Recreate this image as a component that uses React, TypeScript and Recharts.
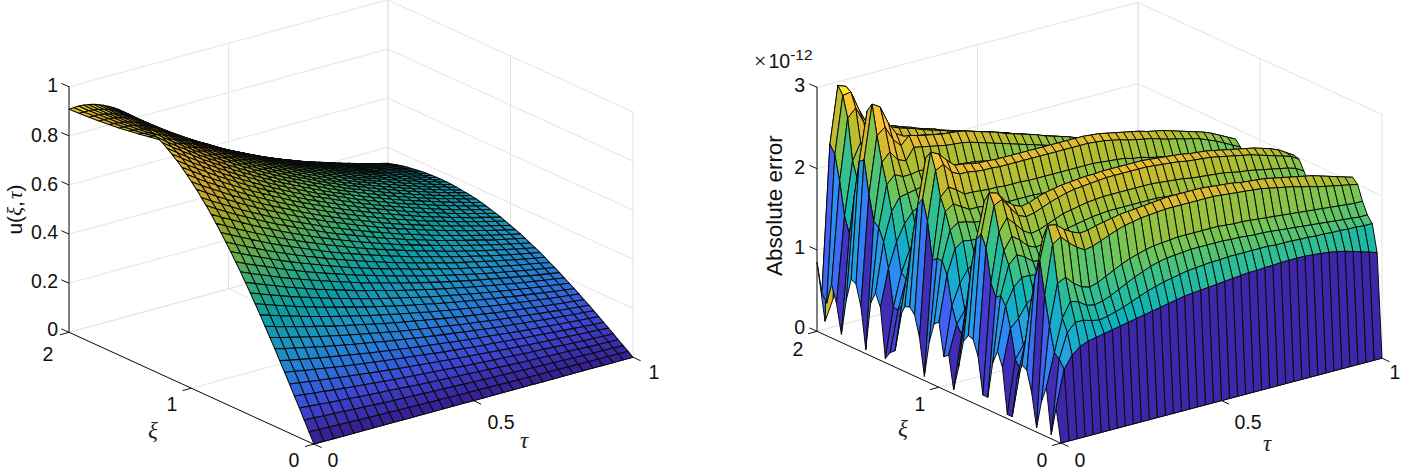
import React from "react";
import { ScatterChart, Scatter, XAxis, YAxis } from "recharts";

// shared xi grid, tau grids for both surfaces
const xiValues = [0, 0.04, 0.08, 0.12, 0.16, 0.2, 0.24, 0.28, 0.32, 0.36, 0.4, 0.44, 0.48, 0.52, 0.56, 0.6, 0.64, 0.68, 0.72, 0.76, 0.8, 0.84, 0.88, 0.92, 0.96, 1, 1.04, 1.08, 1.12, 1.16, 1.2, 1.24, 1.28, 1.32, 1.36, 1.4, 1.44, 1.48, 1.52, 1.56, 1.6, 1.64, 1.68, 1.72, 1.76, 1.8, 1.84, 1.88, 1.92, 1.96, 2];
const tauLeft = [0, 0.03125, 0.0625, 0.09375, 0.125, 0.15625, 0.1875, 0.21875, 0.25, 0.28125, 0.3125, 0.34375, 0.375, 0.40625, 0.4375, 0.46875, 0.5, 0.53125, 0.5625, 0.59375, 0.625, 0.65625, 0.6875, 0.71875, 0.75, 0.78125, 0.8125, 0.84375, 0.875, 0.90625, 0.9375, 0.96875, 1];
const tauRight = [0, 0.025, 0.05, 0.075, 0.1, 0.125, 0.15, 0.175, 0.2, 0.225, 0.25, 0.275, 0.3, 0.325, 0.35, 0.375, 0.4, 0.425, 0.45, 0.475, 0.5, 0.525, 0.55, 0.575, 0.6, 0.625, 0.65, 0.675, 0.7, 0.725, 0.75, 0.775, 0.8, 0.825, 0.85, 0.875, 0.9, 0.925, 0.95, 0.975, 1];

// u(xi, tau) in thousandths, one row per xi
const uRows = [
[0,0,0,0,0,0,0,0,0,0,0,0,0,0,0,0,0,0,0,0,0,0,0,0,0,0,0,0,0,0,0,0,0],
[40,39,38,36,35,34,33,32,31,30,29,28,27,27,26,25,24,24,23,22,21,21,20,19,19,18,18,17,17,16,16,15,15],
[80,78,75,73,71,68,66,64,62,60,59,57,55,53,52,50,49,47,46,44,43,42,40,39,38,37,36,34,33,32,31,30,29],
[120,116,113,109,106,103,99,96,93,91,88,85,82,80,78,75,73,71,68,66,64,62,60,58,57,55,53,52,50,48,47,46,44],
[159,154,149,145,140,136,132,128,124,120,116,113,109,106,103,100,97,93,91,88,85,83,80,77,75,73,71,68,66,64,62,60,59],
[199,193,187,181,176,170,165,160,155,150,146,141,137,133,129,125,121,117,113,110,106,103,100,97,94,91,88,86,83,80,78,76,73],
[238,231,223,217,210,203,197,191,185,180,174,169,164,159,154,149,144,140,136,131,127,124,120,116,112,109,106,102,99,96,93,90,88],
[276,267,259,251,243,236,229,222,215,208,202,196,190,184,178,173,168,162,157,152,148,143,139,134,130,126,123,119,115,112,108,105,102],
[315,305,296,287,278,269,261,253,245,238,231,223,216,210,203,197,191,185,180,174,169,163,158,153,149,144,140,135,131,127,123,120,116],
[352,341,331,321,310,301,292,283,274,266,258,250,242,234,227,220,214,207,201,194,188,183,177,171,166,161,156,151,147,142,138,134,130],
[389,377,365,354,343,333,322,312,303,294,285,276,267,259,251,244,236,229,222,215,208,202,196,189,184,178,173,167,162,157,152,148,143],
[426,413,400,388,376,364,353,342,332,322,312,302,293,284,275,267,259,250,243,235,228,221,214,207,201,195,189,183,178,172,167,162,157],
[462,448,434,421,407,395,383,371,360,349,338,328,317,308,298,289,280,272,263,255,247,240,232,225,218,212,205,199,193,187,181,176,170],
[497,482,467,453,438,425,412,399,387,375,364,352,341,331,321,311,302,292,283,274,266,258,250,242,235,228,221,214,207,201,195,189,183],
[531,515,499,484,468,454,440,426,414,401,389,376,365,354,343,332,322,312,303,293,284,276,267,259,251,243,236,228,221,215,208,202,195],
[565,547,531,515,498,483,468,454,440,427,414,401,388,376,365,354,343,332,322,312,302,293,284,275,267,259,251,243,236,228,221,215,208],
[597,578,561,544,527,510,495,479,465,451,437,423,410,398,386,374,362,351,340,330,319,310,300,291,282,273,265,257,249,241,234,227,220],
[629,610,591,573,555,538,521,505,490,475,460,446,432,419,406,394,382,370,359,347,337,326,316,306,297,288,279,270,262,254,247,239,231],
[659,639,619,600,581,563,546,529,513,498,482,467,453,439,426,413,400,387,376,364,353,342,331,321,311,302,293,283,275,266,258,250,243],
[689,668,647,628,608,589,571,553,537,520,504,488,473,459,445,431,418,405,393,380,369,358,347,336,325,316,306,296,287,278,270,262,254],
[717,695,673,653,632,613,594,576,559,541,525,508,493,478,463,449,435,422,409,396,384,372,361,349,338,328,318,308,299,290,281,272,264],
[745,722,700,679,657,637,618,598,580,562,545,528,512,496,481,466,452,438,425,411,399,387,375,363,352,341,331,320,311,301,292,283,274],
[771,747,724,702,680,659,639,619,601,582,564,547,530,513,498,483,468,453,439,426,412,400,388,375,364,353,342,332,321,311,302,293,284],
[795,770,747,724,701,680,659,638,619,600,582,564,546,529,514,498,483,467,453,439,425,413,400,387,375,364,353,342,332,321,312,302,293],
[819,794,769,746,722,700,679,658,638,618,600,581,563,545,529,513,497,482,467,452,438,425,412,399,387,375,364,352,342,331,321,311,301],
[841,815,790,766,742,719,697,675,655,635,616,596,578,560,543,526,510,495,479,464,450,436,423,410,397,385,373,362,351,340,330,320,309],
[862,835,809,785,760,737,715,692,671,651,631,611,592,574,557,540,523,507,491,476,461,447,434,420,407,395,383,371,359,348,338,328,317],
[882,855,828,803,778,754,731,708,687,666,646,625,606,587,570,552,535,519,503,487,472,458,444,430,416,404,392,379,368,356,346,335,325],
[900,872,845,820,794,770,746,723,701,680,659,638,618,599,581,563,546,529,513,497,482,467,453,438,425,412,400,387,375,364,353,342,331],
[917,889,861,835,809,784,760,736,714,692,671,650,630,611,592,574,557,539,523,506,491,476,461,447,433,420,407,394,382,370,359,348,337],
[932,903,875,849,822,797,773,748,726,704,682,661,640,621,602,583,566,548,531,514,499,484,469,454,440,427,414,401,389,377,365,354,343],
[946,917,888,862,834,809,784,760,737,714,692,671,650,630,611,592,574,556,539,522,506,491,476,461,447,433,420,407,394,382,371,359,348],
[958,928,900,873,845,819,794,769,746,723,701,679,658,638,619,600,582,563,546,529,513,497,482,467,452,439,425,412,399,387,376,364,353],
[969,939,910,883,855,828,803,778,755,732,709,687,666,645,626,607,588,570,552,535,518,503,487,472,457,444,430,417,404,391,380,368,357],
[978,948,918,891,863,836,811,785,762,738,716,693,672,651,632,612,594,575,557,540,523,508,492,476,462,448,434,421,408,395,383,372,360],
[985,954,925,897,869,842,817,791,767,744,721,698,677,656,636,617,598,579,561,544,527,511,495,480,465,451,437,424,411,398,386,374,362],
[991,960,931,903,874,847,822,796,772,748,725,703,681,660,640,620,602,583,565,547,530,514,498,483,468,454,440,426,413,400,388,377,365],
[996,965,935,907,878,852,826,800,776,752,729,706,684,663,643,623,605,586,568,550,533,517,501,485,470,456,442,428,415,402,390,378,367],
[999,968,938,910,881,854,828,802,778,754,731,708,686,665,645,625,606,587,569,551,534,518,502,486,472,458,444,430,417,404,392,380,368],
[1000,969,939,911,882,855,829,803,779,755,732,709,687,666,646,626,607,588,570,552,535,519,503,487,472,458,444,430,417,404,392,380,368],
[1000,969,939,911,882,855,829,803,779,755,732,709,687,666,646,626,607,588,570,552,535,519,503,487,472,458,444,430,417,404,392,380,368],
[998,967,937,909,880,853,827,801,777,753,731,708,686,665,645,625,606,587,569,551,534,518,502,486,471,457,443,429,416,403,391,379,367],
[994,963,933,906,877,850,824,798,774,750,728,705,683,662,642,622,603,584,567,549,532,516,500,484,469,455,441,427,414,402,390,378,366],
[989,958,929,901,872,846,820,794,770,747,724,701,679,659,639,619,600,582,564,546,529,513,497,482,467,453,439,425,412,400,388,376,364],
[982,952,922,895,866,840,814,789,765,741,719,696,675,654,634,615,596,577,560,542,525,510,494,478,464,450,436,422,410,397,385,373,361],
[974,944,915,887,859,833,807,782,759,735,713,691,669,649,629,610,591,573,555,538,521,506,490,474,460,446,432,419,406,393,382,370,358],
[964,934,905,878,850,824,799,774,751,728,706,683,662,642,623,603,585,567,549,532,516,500,485,469,455,442,428,415,402,389,378,366,355],
[953,923,895,868,841,815,790,765,742,720,698,676,655,635,616,597,578,560,543,526,510,495,479,464,450,436,423,410,397,385,374,362,351],
[940,911,883,856,829,804,779,755,732,710,688,666,646,626,607,588,571,553,536,519,503,488,473,458,444,431,417,404,392,380,368,357,346],
[925,896,869,843,816,791,767,743,721,698,677,656,635,616,598,579,561,544,527,511,495,480,465,450,437,424,411,398,386,374,363,352,340],
[909,881,854,828,802,777,754,730,708,686,665,644,624,605,587,569,552,534,518,502,486,472,457,443,429,416,404,391,379,367,356,345,335],
];

// absolute error in units of 1e-14, one row per xi
const errRows = [
[0,0,0,0,0,0,0,0,0,0,0,0,0,0,0,0,0,0,0,0,0,0,0,0,0,0,0,0,0,0,0,0,0,0,0,0,0,0,0,0,0],
[40,85,100,108,112,114,116,118,120,122,124,126,128,130,132,134,136,137,138,139,140,141,142,143,144,144,145,145,146,146,146,146,145,144,143,141,139,136,133,130,127],
[5,95,125,135,135,132,130,132,135,138,142,146,150,153,156,158,160,162,163,164,165,165,166,166,166,166,166,166,165,165,165,164,164,163,163,162,162,161,161,160,160],
[60,100,140,158,155,148,146,148,152,157,162,167,171,175,178,180,181,182,183,183,183,183,183,182,182,181,180,180,179,178,177,176,175,174,173,172,171,170,169,168,168],
[40,130,180,185,175,168,165,168,173,178,183,187,190,193,195,196,197,198,198,198,198,198,198,197,196,196,195,194,193,192,191,190,189,188,187,186,185,184,183,182,182],
[5,165,225,232,222,214,208,210,214,218,222,225,227,229,230,231,232,232,232,232,232,232,232,231,230,229,228,227,226,224,222,220,218,215,213,210,208,206,204,202,200],
[45,205,246,244,236,230,226,227,230,232,234,236,237,238,239,240,241,242,242,242,242,242,241,240,239,238,236,235,234,233,231,229,227,225,223,221,218,215,212,209,206],
[70,180,228,230,220,212,208,210,213,216,218,220,221,222,223,224,224,225,225,225,225,225,224,223,222,221,220,219,218,217,215,213,212,210,208,206,204,202,200,198,195],
[74,140,180,190,180,172,172,174,178,182,185,187,189,191,192,193,194,195,195,195,195,195,194,193,192,191,190,189,188,187,186,184,183,182,180,178,176,174,172,170,166],
[55,95,130,150,150,150,150,152,156,159,161,163,165,166,167,168,169,170,170,170,170,170,169,168,167,166,165,164,163,162,161,160,159,158,156,155,153,152,150,148,145],
[5,60,90,115,125,132,136,139,143,145,147,149,150,151,152,153,154,155,155,155,155,155,154,153,152,151,150,149,148,147,146,145,144,143,142,141,140,138,136,134,130],
[5,70,85,105,118,126,132,135,138,140,142,144,145,146,147,148,149,150,150,150,150,150,149,148,147,146,145,144,143,142,141,140,139,138,137,136,135,134,132,130,126],
[60,105,115,130,138,142,145,147,150,152,154,155,156,157,158,159,160,160,160,160,160,160,159,158,157,156,155,154,153,152,151,150,149,148,147,146,145,143,141,139,135],
[77,130,150,160,160,158,157,159,162,165,168,170,171,172,173,174,175,175,175,175,175,175,174,173,172,171,170,169,168,167,166,165,164,163,162,160,158,156,154,152,148],
[60,140,175,185,180,172,170,172,176,179,182,185,186,188,189,190,190,190,190,190,190,190,189,188,187,186,185,184,183,182,181,180,179,178,176,174,172,170,168,166,161],
[15,135,190,205,198,188,184,186,190,194,197,199,201,203,204,205,205,205,205,205,205,205,204,203,202,201,200,199,198,197,196,194,193,192,190,188,186,184,182,179,174],
[15,150,210,225,215,204,198,200,204,208,212,214,216,218,219,220,220,220,220,220,220,220,219,218,217,216,214,213,212,211,210,208,206,205,203,201,199,197,195,192,186],
[60,190,240,245,232,220,216,218,222,226,229,232,234,235,236,237,238,238,238,238,238,238,237,236,235,234,232,231,230,229,227,225,223,221,219,216,213,210,207,204,198],
[78,205,253,250,238,230,226,228,232,235,237,239,240,241,242,242,243,243,243,243,243,243,242,241,240,239,238,236,235,234,232,230,228,226,224,222,219,216,212,206,200],
[80,195,240,240,228,218,212,214,218,222,224,226,227,228,229,230,231,232,232,232,232,232,231,230,229,228,226,225,224,223,222,220,218,216,214,212,209,206,203,198,192],
[70,160,200,210,200,192,190,191,193,196,198,200,201,202,203,204,204,205,205,205,205,205,204,203,202,201,200,199,198,197,196,194,193,192,190,188,186,184,182,178,174],
[35,110,150,170,170,168,166,168,170,172,174,175,176,177,178,179,179,180,180,180,180,180,179,178,177,176,175,174,173,172,171,170,169,168,166,164,162,160,158,156,152],
[5,70,105,130,138,142,144,146,149,151,153,154,155,156,157,158,159,160,160,160,160,160,159,158,157,156,155,154,153,152,151,150,149,148,146,144,142,140,138,136,132],
[45,80,95,115,128,138,143,145,147,148,149,150,150,150,150,150,150,150,150,150,150,150,149,148,147,146,145,144,143,141,140,138,137,135,133,131,129,127,125,121,117],
[40,100,125,140,148,152,155,156,156,156,156,156,156,156,156,156,155,155,155,155,155,155,154,153,152,151,150,149,147,146,144,143,141,139,137,135,133,131,128,125,121],
[80,135,165,172,170,170,171,170,170,170,170,169,169,169,168,168,168,168,168,168,168,168,167,166,165,164,162,161,160,158,156,155,153,151,149,147,144,142,139,135,131],
[75,150,185,192,190,187,186,185,185,184,184,183,183,183,182,182,182,182,182,182,182,182,181,180,179,178,176,175,173,171,169,168,166,164,161,159,157,154,151,146,142],
[50,150,205,212,206,200,200,199,198,198,197,197,197,197,196,196,196,196,196,196,196,196,195,194,193,192,189,188,186,184,182,180,178,176,174,171,169,165,161,157,153],
[5,145,220,230,224,216,216,215,214,214,213,213,213,212,212,212,212,212,212,212,212,212,211,210,209,208,205,204,201,199,197,195,193,190,188,185,182,179,175,170,165],
[50,190,250,255,243,238,238,236,235,235,234,234,234,234,234,234,234,234,234,234,234,234,233,232,230,228,225,223,221,219,216,213,211,208,206,203,199,195,190,185,180],
[75,215,270,265,255,246,245,243,241,241,240,240,240,240,240,240,240,240,240,240,240,240,239,238,236,234,232,230,228,225,223,221,218,215,212,209,206,202,197,192,187],
[82,205,260,260,246,236,232,231,230,229,229,228,228,228,228,228,228,228,228,228,228,228,227,226,224,222,220,218,216,214,212,210,207,204,202,199,196,192,187,182,178],
[80,165,215,222,210,204,204,203,202,201,201,200,200,200,200,200,200,200,200,200,200,200,199,198,196,195,193,191,190,188,186,184,182,179,177,175,172,168,164,160,156],
[65,120,160,178,178,178,178,177,176,176,176,175,175,175,175,175,175,175,175,175,175,175,174,173,172,170,169,167,166,164,163,161,159,157,155,153,150,147,144,140,137],
[20,75,115,140,150,156,158,157,156,156,156,155,155,155,155,155,155,155,155,155,155,155,154,153,152,151,150,148,147,146,144,143,141,139,137,135,133,130,127,124,121],
[15,65,100,125,138,145,150,150,150,149,149,149,148,148,148,147,147,146,146,146,145,145,144,143,142,140,139,137,136,134,132,130,128,126,124,122,120,118,115,113,110],
[5,65,105,130,145,155,160,160,160,160,160,159,158,157,156,155,154,153,152,151,150,148,146,144,142,140,138,136,134,132,130,128,126,123,120,118,116,114,112,110,108],
[65,110,140,160,172,178,180,179,178,177,176,175,174,173,172,170,168,167,165,164,162,160,158,156,153,151,148,146,143,141,138,136,133,130,127,125,123,121,119,117,115],
[80,140,175,190,192,194,196,195,194,193,192,191,190,189,187,185,183,180,178,176,175,172,170,167,165,162,159,157,154,151,149,146,144,140,137,135,133,130,128,126,124],
[65,155,205,215,210,210,212,211,210,209,208,207,206,205,203,200,198,195,193,191,190,187,184,181,178,175,173,170,167,164,161,159,156,152,148,146,144,141,139,136,134],
[5,160,230,240,228,224,238,236,234,232,230,229,228,226,223,220,217,214,211,208,205,202,199,196,193,190,187,183,180,177,174,171,168,164,160,158,156,153,150,147,146],
[55,190,260,268,250,240,250,247,245,243,241,240,239,237,234,231,228,225,221,218,215,212,209,205,202,199,196,192,189,186,183,180,176,172,168,166,163,160,157,155,153],
[80,230,296,290,268,252,246,244,242,240,238,236,235,232,230,228,224,220,216,213,210,207,204,200,197,194,191,188,185,182,178,175,172,168,164,162,160,156,153,151,149],
[83,225,285,285,262,242,234,232,230,228,226,224,222,220,218,216,212,209,206,203,200,197,194,191,188,185,182,179,176,173,170,167,164,160,156,154,152,149,146,144,142],
[55,180,240,250,232,216,208,206,204,202,201,199,197,196,194,192,189,186,183,180,178,175,173,170,167,165,162,159,157,154,151,149,146,142,139,137,135,133,130,128,126],
[10,130,195,215,205,195,190,188,186,185,184,182,181,179,177,175,172,170,168,166,165,163,160,158,155,153,150,148,145,143,140,138,135,132,129,127,125,123,121,119,117],
[45,150,215,235,225,215,208,206,204,202,200,198,196,194,192,190,186,184,180,175,172,170,167,164,161,159,156,154,151,148,146,144,141,138,134,132,131,128,125,124,122],
[66,190,265,275,255,238,228,226,224,222,220,217,215,212,210,207,203,200,196,190,185,182,179,176,173,170,167,164,161,158,155,153,150,146,142,140,138,135,132,130,128],
[40,220,290,292,268,248,240,238,236,232,229,226,222,219,216,213,209,206,203,200,198,195,191,188,184,181,178,174,171,168,165,161,158,154,150,147,145,142,139,136,134],
[50,230,300,296,270,250,240,238,235,232,228,225,221,218,215,211,208,205,202,199,196,193,190,187,183,180,177,173,170,167,164,160,157,153,149,146,144,141,138,135,133],
[85,10,35,60,80,100,110,115,120,122,125,125,125,125,122,120,118,116,114,112,110,108,106,104,102,100,98,96,94,92,90,88,86,84,82,80,78,76,74,72,70],
];

const uTicks = [0, 0.2, 0.4, 0.6, 0.8, 1];
const errTicks = [0, 1, 2, 3];
const xiTicks = [0, 1, 2];
const tauTicks = [0, 0.5, 1];

const parula = ["#3e26a8", "#4750f3", "#2e87f7", "#1fa8db", "#0bb4b8", "#35c08c", "#73c656", "#b0bd2e", "#ebba2f", "#fcc832", "#f9fb15"];

const leftBox = { ox: 314, oy: 444, xiX: -122.5, xiY: -56, tauX: 319, tauY: -87, zPx: 246 };
const rightBox = { ox: 1061, oy: 443, xiX: -122, xiY: -56, tauX: 321, tauY: -85, zPx: 81.5 };

const hexToRgb = (h: string) => [1, 3, 5].map((k) => parseInt(h.slice(k, k + 2), 16));
function colorAt(t: number, shade: number) {
  const f = Math.max(0, Math.min(0.9999, t)) * (parula.length - 1);
  const k = Math.floor(f);
  const a = hexToRgb(parula[k]);
  const b = hexToRgb(parula[k + 1]);
  const c = a.map((v, n) => Math.round((v + (b[n] - v) * (f - k)) * shade));
  return `rgb(${c[0]},${c[1]},${c[2]})`;
}

const project = (box: any, xi: number, tau: number, z: number) => ({
  x: box.ox + xi * box.xiX + tau * box.tauX,
  y: box.oy + xi * box.xiY + tau * box.tauY - z * box.zPx,
});

// far cells first, so nearer ones paint over them
function buildFaces(box: any, taus: number[], rows: number[][], unit: number, zMax: number, shade: number) {
  const faces: any[] = [];
  for (let i = xiValues.length - 2; i >= 0; i--) {
    for (let j = taus.length - 2; j >= 0; j--) {
      const p = [[i, j], [i + 1, j], [i + 1, j + 1], [i, j + 1]].map(([a, b]) => project(box, xiValues[a], taus[b], rows[a][b] * unit));
      faces.push({
        x: p[0].x,
        y: p[0].y,
        pts: p.map((q) => [q.x - p[0].x, q.y - p[0].y]),
        fill: colorAt((rows[i][j] * unit) / zMax, shade),
      });
    }
  }
  return faces;
}

const seg = (a: any, b: any, stroke: string) => ({ x: a.x, y: a.y, dx: b.x - a.x, dy: b.y - a.y, stroke });

function buildFrame(box: any, zTicks: number[]) {
  const grid: any[] = [];
  const axes: any[] = [];
  const zTop = zTicks[zTicks.length - 1];
  const light = "#e4e4e4";
  zTicks.forEach((z) => {
    grid.push(seg(project(box, 2, 0, z), project(box, 2, 1, z), light));
    grid.push(seg(project(box, 2, 1, z), project(box, 0, 1, z), light));
  });
  xiTicks.forEach((xi) => {
    grid.push(seg(project(box, xi, 0, 0), project(box, xi, 1, 0), light));
    grid.push(seg(project(box, xi, 1, 0), project(box, xi, 1, zTop), light));
  });
  tauTicks.forEach((tau) => {
    grid.push(seg(project(box, 2, tau, 0), project(box, 0, tau, 0), light));
    grid.push(seg(project(box, 2, tau, 0), project(box, 2, tau, zTop), light));
  });
  const ink = "#111";
  axes.push(seg(project(box, 2, 0, 0), project(box, 2, 0, zTop), ink));
  axes.push(seg(project(box, 2, 0, 0), project(box, 0, 0, 0), ink));
  axes.push(seg(project(box, 0, 0, 0), project(box, 0, 1, 0), ink));
  zTicks.forEach((z) => {
    const p = project(box, 2, 0, z);
    axes.push(seg(p, { x: p.x - 7.6, y: p.y - 3.4 }, ink));
  });
  xiTicks.forEach((xi) => {
    const p = project(box, xi, 0, 0);
    axes.push(seg(p, { x: p.x - 9, y: p.y + 2.5 }, ink));
  });
  tauTicks.forEach((tau) => {
    const p = project(box, 0, tau, 0);
    axes.push(seg(p, { x: p.x + 7.6, y: p.y + 3.5 }, ink));
  });
  return { grid, axes };
}

const Face = (props: any) => {
  const { cx, cy, payload, sw } = props;
  const points = payload.pts.map((q: number[]) => `${cx + q[0]},${cy + q[1]}`).join(" ");
  return <polygon points={points} fill={payload.fill} stroke="#0a0a0a" strokeWidth={sw} strokeLinejoin="round" />;
};

const Segment = (props: any) => {
  const { cx, cy, payload } = props;
  return <line x1={cx} y1={cy} x2={cx + payload.dx} y2={cy + payload.dy} stroke={payload.stroke} strokeWidth={1} />;
};

const sans = "'Liberation Sans', Arial, sans-serif";
const serif = "'Liberation Serif', serif";

const labels = [
  { x: 58, y: 91, t: "1", a: "end" }, { x: 58, y: 141, t: "0.8", a: "end" }, { x: 58, y: 190, t: "0.6", a: "end" },
  { x: 58, y: 239, t: "0.4", a: "end" }, { x: 58, y: 288, t: "0.2", a: "end" }, { x: 58, y: 336, t: "0", a: "end" },
  { x: 48, y: 361, t: "2", a: "middle" }, { x: 172, y: 411, t: "1", a: "middle" }, { x: 294, y: 467, t: "0", a: "middle" },
  { x: 333, y: 467, t: "0", a: "middle" }, { x: 501, y: 429, t: "0.5", a: "middle" }, { x: 654, y: 379, t: "1", a: "middle" },
  { x: 805, y: 91, t: "3", a: "end" }, { x: 805, y: 173, t: "2", a: "end" }, { x: 805, y: 254, t: "1", a: "end" }, { x: 805, y: 334, t: "0", a: "end" },
  { x: 798, y: 356, t: "2", a: "middle" }, { x: 920, y: 411, t: "1", a: "middle" }, { x: 1042, y: 467, t: "0", a: "middle" },
  { x: 1080, y: 467, t: "0", a: "middle" }, { x: 1248, y: 429, t: "0.5", a: "middle" }, { x: 1395, y: 379, t: "1", a: "middle" },
];
const greek = [
  { x: 153, y: 438, t: "ξ" }, { x: 524, y: 448, t: "τ" }, { x: 903, y: 436, t: "ξ" }, { x: 1267, y: 451, t: "τ" },
];

const Label = ({ cx, cy, payload }: any) => (
  <text x={cx} y={cy} textAnchor={payload.a} fontFamily={sans} fontSize={19.5} fill="#111">{payload.t}</text>
);
const Greek = ({ cx, cy, payload }: any) => (
  <text x={cx} y={cy} textAnchor="middle" fontFamily={serif} fontStyle="italic" fontSize={23} fill="#222">{payload.t}</text>
);
const Title = ({ cx, cy, payload }: any) => {
  if (payload.kind === "u") {
    return (
      <text transform={`translate(${cx},${cy}) rotate(-90)`} textAnchor="middle" fontFamily={sans} fontSize={21} fill="#111">
        u(<tspan fontFamily={serif} fontStyle="italic">ξ</tspan>,<tspan fontFamily={serif} fontStyle="italic" dx={2}>τ</tspan>)
      </text>
    );
  }
  if (payload.kind === "err") {
    return (
      <text transform={`translate(${cx},${cy}) rotate(-90)`} textAnchor="middle" fontFamily={sans} fontSize={22.4} fill="#111">Absolute error</text>
    );
  }
  return (
    <text x={cx} y={cy} fontFamily={sans} fontSize={19.5} fill="#111">
      <tspan fontFamily={serif} fontSize={22}>×</tspan><tspan dx={2}>10</tspan><tspan fontSize={15.5} dy={-8}>-12</tspan>
    </text>
  );
};
const titles = [
  { x: 22, y: 209, kind: "u" },
  { x: 782, y: 205, kind: "err" },
  { x: 754, y: 67, kind: "exp" },
];

export default function App() {
  const left = buildFrame(leftBox, uTicks);
  const right = buildFrame(rightBox, errTicks);
  const leftFaces = buildFaces(leftBox, tauLeft, uRows, 0.001, 1, 0.88);
  const rightFaces = buildFaces(rightBox, tauRight, errRows, 0.01, 3, 1);
  const frame = [...left.grid, ...right.grid];
  const axes = [...left.axes, ...right.axes];

  return (
    <div style={{ position: "absolute", left: 0, top: 0, width: 1402, height: 471, background: "#fff" }}>
      <ScatterChart width={1402} height={471} margin={{ top: 0, right: 0, bottom: 0, left: 0 }}>
        <XAxis dataKey="x" type="number" domain={[0, 1402]} hide />
        <YAxis dataKey="y" type="number" domain={[0, 471]} reversed hide width={0} />
        <Scatter data={frame} isAnimationActive={false} shape={Segment} />
        <Scatter data={axes} isAnimationActive={false} shape={Segment} />
        <Scatter data={leftFaces} isAnimationActive={false} shape={(p: any) => <Face {...p} sw={1.05} />} />
        <Scatter data={rightFaces} isAnimationActive={false} shape={(p: any) => <Face {...p} sw={1} />} />
        <Scatter data={labels} isAnimationActive={false} shape={Label} />
        <Scatter data={greek} isAnimationActive={false} shape={Greek} />
        <Scatter data={titles} isAnimationActive={false} shape={Title} />
      </ScatterChart>
    </div>
  );
}
